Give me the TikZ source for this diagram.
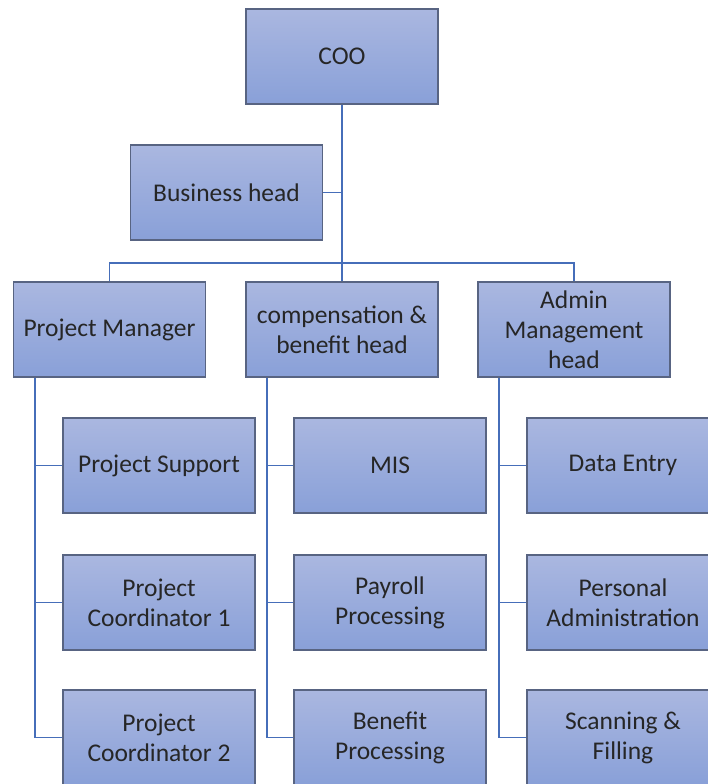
\documentclass[tikz,border=0pt]{standalone}
\usepackage{fontspec}
\setmainfont{Carlito}
\usepackage{tikz}
\definecolor{boxtop}{RGB}{170,183,224}
\definecolor{boxbot}{RGB}{137,160,216}
\definecolor{boxedge}{RGB}{88,100,130}
\definecolor{linkblue}{RGB}{70,110,185}

\begin{document}
\begin{tikzpicture}[x=1pt,y=-1pt,
    orgbox/.style={draw=boxedge,line width=1.3pt,top color=boxtop,bottom color=boxbot,
      minimum width=192pt,minimum height=95pt,inner sep=1pt,align=center,
      text=black!85,font=\fontsize{25.5}{30}\selectfont},
    link/.style={draw=linkblue,line width=1.8pt}]
      \useasboundingbox (0,0) rectangle (708,784);
      \clip (0,0) rectangle (708,784);
      % top of the chart
      \node[orgbox] (coo) at (342,56.5) {COO};
      \node[orgbox] (bh) at (226.5,192.5) {Business head};
      % heads, boxes 95 high
      \node[orgbox] (pm) at (109.5,329.5) {Project Manager};
      \node[orgbox] (cb) at (342,329.5) {compensation \&\\benefit head};
      \node[orgbox] (adm) at (574,329.5) {Admin\\Management\\head};
      % staff under each head
      \node[orgbox] (ps) at (159,465.5) {Project Support};
      \node[orgbox] (pc1) at (159,602.5) {Project\\Coordinator 1};
      \node[orgbox] (pc2) at (159,737.5) {Project\\Coordinator 2};
      \node[orgbox] (mis) at (390,465.5) {MIS};
      \node[orgbox] (pay) at (390,602.5) {Payroll\\Processing};
      \node[orgbox] (ben) at (390,737.5) {Benefit\\Processing};
      \node[orgbox] (de) at (623,465.5) {Data Entry};
      \node[orgbox] (pa) at (623,602.5) {Personal\\Administration};
      \node[orgbox] (sf) at (623,737.5) {Scanning \&\\Filling};
      \coordinate (bar) at (342,263);
      \draw[link] (coo.south) -- (cb.north);
      \draw[link] (bh.east) -- (bh.east -| coo.south);
      \draw[link] (pm.north) |- (bar) -| (adm.north);
      \foreach \h/\a/\b/\c in {pm/ps/pc1/pc2,cb/mis/pay/ben,adm/de/pa/sf}{
        \draw[link] ([xshift=22pt]\h.south west) |- (\c.west);
        \draw[link] ([xshift=22pt]\h.south west) |- (\a.west);
        \draw[link] ([xshift=22pt]\h.south west) |- (\b.west);
      }
    \end{tikzpicture}
\end{document}
